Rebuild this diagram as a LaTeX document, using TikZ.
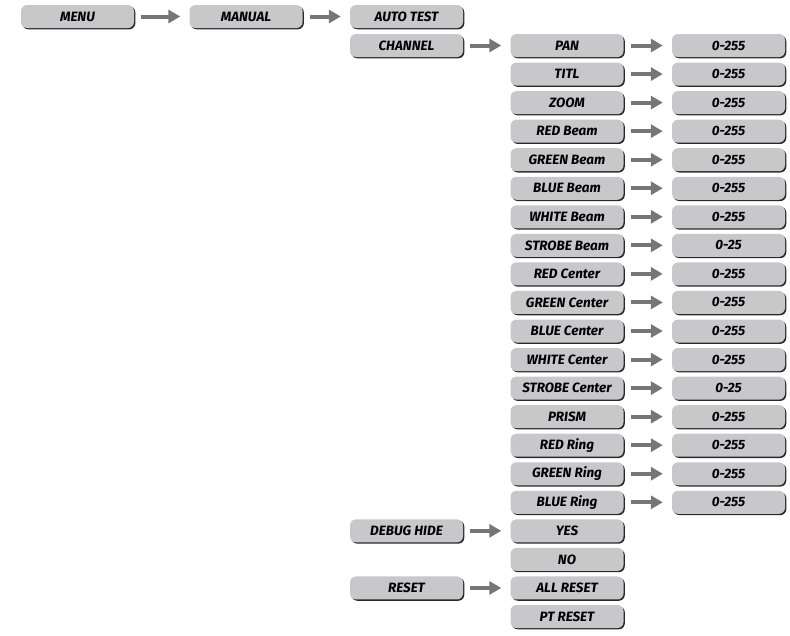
\documentclass[tikz,border=0pt]{standalone}
\usepackage{fontspec}
\setmainfont{Fira Sans}
\usetikzlibrary{arrows.meta,shadows}

\definecolor{boxgray}{RGB}{200,200,203}
\definecolor{edgegray}{RGB}{40,40,40}
\definecolor{arrowgray}{RGB}{118,118,118}

\begin{document}
\begin{tikzpicture}[
		x=1pt, y=-1pt,
		every node/.style={rectangle, rounded corners=6pt, fill=boxgray, minimum width=113pt, minimum height=23pt, inner sep=0pt,
			font=\fontsize{13.5}{15}\selectfont\bfseries\itshape,
			general shadow={fill=edgegray, shadow xshift=1.3pt, shadow yshift=-1.3pt}},
		go_arrow/.style={draw=arrowgray, line width=4pt, -{Triangle[length=12pt,width=13pt]}}
	]
  \useasboundingbox (0,0) rectangle (790,635);
  % top row
  \node (menu) at (77.5, 16.5) {MENU};
  \node (manual) at (246, 16.5) {MANUAL};
  \node (auto_test) at (406.5, 16.5) {AUTO TEST};
  \node (channel) at (406.5, 45.5) {CHANNEL};
  \node (debug_hide) at (406.5, 530.85) {DEBUG HIDE};
  \node (reset) at (406.5, 587.95) {RESET};
  % channels
  \node (pan) at (567, 45.5) {PAN};
  \node (titl) at (567, 74.05) {TITL};
  \node (zoom) at (567, 102.6) {ZOOM};
  \node (red_beam) at (567, 131.15) {RED Beam};
  \node (green_beam) at (567, 159.7) {GREEN Beam};
  \node (blue_beam) at (567, 188.25) {BLUE Beam};
  \node (white_beam) at (567, 216.8) {WHITE Beam};
  \node (strobe_beam) at (567, 245.35) {STROBE Beam};
  \node (red_center) at (567, 273.9) {RED Center};
  \node (green_center) at (567, 302.45) {GREEN Center};
  \node (blue_center) at (567, 331) {BLUE Center};
  \node (white_center) at (567, 359.55) {WHITE Center};
  \node (strobe_center) at (567, 388.1) {STROBE Center};
  \node (prism) at (567, 416.65) {PRISM};
  \node (red_ring) at (567, 445.2) {RED Ring};
  \node (green_ring) at (567, 473.75) {GREEN Ring};
  \node (blue_ring) at (567, 502.3) {BLUE Ring};
  \node (yes) at (567, 530.85) {YES};
  \node (no) at (567, 559.4) {NO};
  \node (all_reset) at (567, 587.95) {ALL RESET};
  \node (pt_reset) at (567, 616.5) {PT RESET};
  % values
  \node (pan_val) at (728.5, 45.5) {0-255};
  \node (titl_val) at (728.5, 74.05) {0-255};
  \node (zoom_val) at (728.5, 102.6) {0-255};
  \node (red_beam_val) at (728.5, 131.15) {0-255};
  \node (green_beam_val) at (728.5, 159.7) {0-255};
  \node (blue_beam_val) at (728.5, 188.25) {0-255};
  \node (white_beam_val) at (728.5, 216.8) {0-255};
  \node (strobe_beam_val) at (728.5, 245.35) {0-25};
  \node (red_center_val) at (728.5, 273.9) {0-255};
  \node (green_center_val) at (728.5, 302.45) {0-255};
  \node (blue_center_val) at (728.5, 331) {0-255};
  \node (white_center_val) at (728.5, 359.55) {0-255};
  \node (strobe_center_val) at (728.5, 388.1) {0-25};
  \node (prism_val) at (728.5, 416.65) {0-255};
  \node (red_ring_val) at (728.5, 445.2) {0-255};
  \node (green_ring_val) at (728.5, 473.75) {0-255};
  \node (blue_ring_val) at (728.5, 502.3) {0-255};
  % arrows
  \draw[go_arrow] ([xshift=7pt]menu.east) -- ([xshift=-9pt]manual.west);
  \draw[go_arrow] ([xshift=7pt]manual.east) -- ([xshift=-9pt]auto_test.west);
  \draw[go_arrow] ([xshift=7pt]channel.east) -- ([xshift=-9pt]pan.west);
  \draw[go_arrow] ([xshift=7pt]debug_hide.east) -- ([xshift=-9pt]yes.west);
  \draw[go_arrow] ([xshift=7pt]reset.east) -- ([xshift=-9pt]all_reset.west);
  \draw[go_arrow] ([xshift=7pt]pan.east) -- ([xshift=-9pt]pan_val.west);
  \draw[go_arrow] ([xshift=7pt]titl.east) -- ([xshift=-9pt]titl_val.west);
  \draw[go_arrow] ([xshift=7pt]zoom.east) -- ([xshift=-9pt]zoom_val.west);
  \draw[go_arrow] ([xshift=7pt]red_beam.east) -- ([xshift=-9pt]red_beam_val.west);
  \draw[go_arrow] ([xshift=7pt]green_beam.east) -- ([xshift=-9pt]green_beam_val.west);
  \draw[go_arrow] ([xshift=7pt]blue_beam.east) -- ([xshift=-9pt]blue_beam_val.west);
  \draw[go_arrow] ([xshift=7pt]white_beam.east) -- ([xshift=-9pt]white_beam_val.west);
  \draw[go_arrow] ([xshift=7pt]strobe_beam.east) -- ([xshift=-9pt]strobe_beam_val.west);
  \draw[go_arrow] ([xshift=7pt]red_center.east) -- ([xshift=-9pt]red_center_val.west);
  \draw[go_arrow] ([xshift=7pt]green_center.east) -- ([xshift=-9pt]green_center_val.west);
  \draw[go_arrow] ([xshift=7pt]blue_center.east) -- ([xshift=-9pt]blue_center_val.west);
  \draw[go_arrow] ([xshift=7pt]white_center.east) -- ([xshift=-9pt]white_center_val.west);
  \draw[go_arrow] ([xshift=7pt]strobe_center.east) -- ([xshift=-9pt]strobe_center_val.west);
  \draw[go_arrow] ([xshift=7pt]prism.east) -- ([xshift=-9pt]prism_val.west);
  \draw[go_arrow] ([xshift=7pt]red_ring.east) -- ([xshift=-9pt]red_ring_val.west);
  \draw[go_arrow] ([xshift=7pt]green_ring.east) -- ([xshift=-9pt]green_ring_val.west);
  \draw[go_arrow] ([xshift=7pt]blue_ring.east) -- ([xshift=-9pt]blue_ring_val.west);
\end{tikzpicture}
\end{document}
